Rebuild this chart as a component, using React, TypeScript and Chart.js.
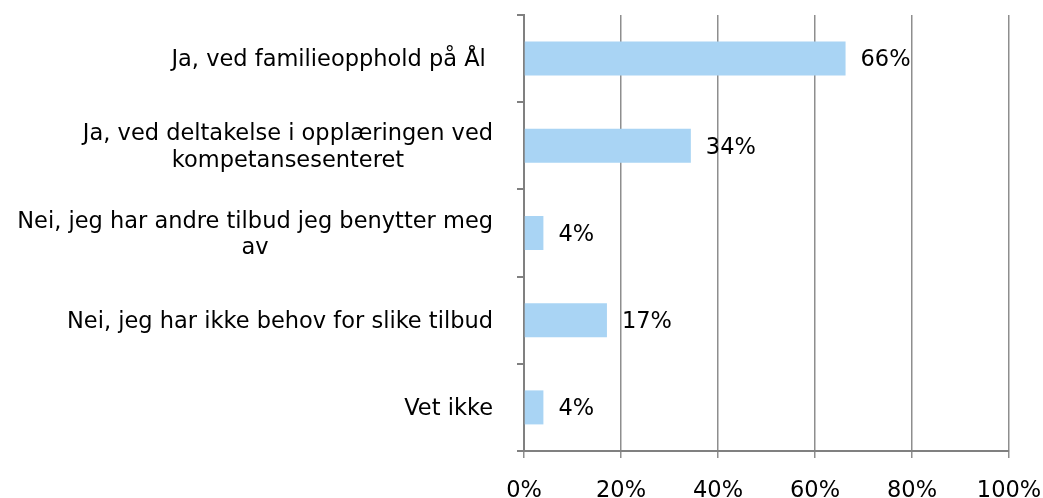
import React, { useEffect, useRef } from "react";
import { Chart, registerables } from "chart.js";

Chart.register(...registerables);

const categories: string[][] = [
  ["Ja, ved familieopphold på Ål "],
  ["Ja, ved deltakelse i opplæringen ved", "kompetansesenteret"],
  ["Nei, jeg har andre tilbud jeg benytter meg", "av"],
  ["Nei, jeg har ikke behov for slike tilbud"],
  ["Vet ikke"],
];
const values: number[] = [66.3, 34.4, 4.0, 17.1, 4.0];
const xTicks: number[] = [0, 20, 40, 60, 80, 100];

const FONT = "DejaVu Sans, Verdana, sans-serif";
const FONT_SIZE = 22.5;

const labelPlugin = {
  id: "customLabels",
  afterDraw(chart: any) {
    const ctx = chart.ctx;
    const yScale = chart.scales.y;
    const area = chart.chartArea;
    ctx.save();
    ctx.font = `${FONT_SIZE}px ${FONT}`;
    ctx.fillStyle = "#000";
    ctx.textBaseline = "middle";
    ctx.textAlign = "center";
    const lineH = 26.5;
    const dy = 2;
    categories.forEach((lines, i) => {
      const y = yScale.getPixelForValue(i) + dy;
      const w = Math.max(...lines.map((l) => ctx.measureText(l).width));
      const right = area.left - 31;
      const cx = right - w / 2;
      lines.forEach((l, j) => {
        ctx.fillText(l, cx, y + (j - (lines.length - 1) / 2) * lineH);
      });
    });
    const meta = chart.getDatasetMeta(0);
    ctx.textAlign = "left";
    meta.data.forEach((bar: any, i: number) => {
      ctx.fillText(Math.round(values[i]) + "%", bar.x + 15, bar.y + dy);
    });
    ctx.restore();
  },
};

export default function App() {
  const ref = useRef<HTMLCanvasElement>(null);
  useEffect(() => {
    document.body.style.margin = "0";
    const chart = new Chart(ref.current!, {
      type: "bar",
      data: {
        labels: categories.map((c) => c.join(" ")),
        datasets: [
          {
            data: values,
            backgroundColor: "#A9D4F4",
            barPercentage: 0.39,
            categoryPercentage: 1,
          },
        ],
      },
      options: {
        indexAxis: "y",
        animation: false,
        responsive: true,
        maintainAspectRatio: false,
        layout: { padding: { top: 15, right: 34, left: 0, bottom: 0 } },
        plugins: { legend: { display: false }, tooltip: { enabled: false } },
        scales: {
          x: {
            min: 0,
            max: 100,
            afterBuildTicks: (scale: any) => {
              scale.ticks = xTicks.map((v) => ({ value: v }));
            },
            afterFit: (scale: any) => {
              scale.height = 47;
              scale.paddingLeft = 0;
              scale.paddingRight = 0;
            },
            ticks: {
              callback: (v: any) => v + "%",
              color: "#000",
              font: { family: FONT, size: FONT_SIZE },
              padding: 20,
              maxRotation: 0,
            },
            grid: { color: "#8e8e8e", lineWidth: 1.5, tickLength: 7 },
            border: { color: "#808080", width: 2 },
          },
          y: {
            offset: true,
            ticks: { display: false },
            afterFit: (scale: any) => {
              scale.width = 524;
            },
            grid: {
              offset: true,
              drawOnChartArea: false,
              drawTicks: true,
              tickLength: 7,
              color: "#808080",
              lineWidth: 2,
            },
            border: { color: "#808080", width: 2 },
          },
        },
      },
      plugins: [labelPlugin],
    });
    return () => chart.destroy();
  }, []);
  return (
    <div style={{ width: 1043, height: 498, position: "relative" }}>
      <canvas ref={ref} />
    </div>
  );
}
